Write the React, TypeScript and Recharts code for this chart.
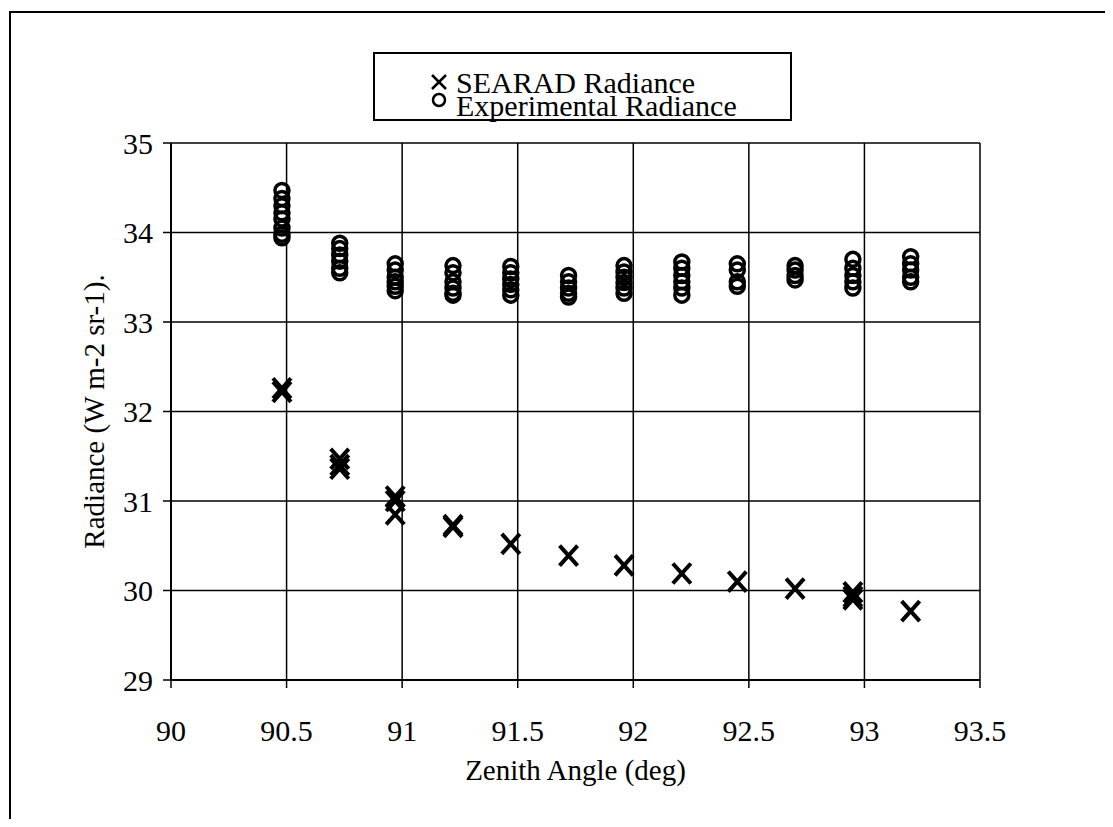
import { ScatterChart, Scatter, XAxis, YAxis, CartesianGrid, Legend, Label } from "recharts";

// zenith angle of each measurement column (deg)
const angles = [90.48, 90.73, 90.97, 91.22, 91.47, 91.72, 91.96, 92.21, 92.45, 92.7, 92.95, 93.2];

// SEARAD model radiance, per column
const searad = [
  [32.22, 32.26],
  [31.47, 31.4, 31.36],
  [31.05, 31.0, 30.85],
  [30.71, 30.73],
  [30.52],
  [30.39],
  [30.28],
  [30.19],
  [30.1],
  [30.02],
  [29.98, 29.93, 29.9],
  [29.77]
];

// experimental radiance, per column
const experimental = [
  [34.47, 34.38, 34.3, 34.22, 34.15, 34.05, 33.98, 33.94],
  [33.88, 33.82, 33.75, 33.68, 33.6, 33.55],
  [33.65, 33.58, 33.5, 33.45, 33.4, 33.35],
  [33.63, 33.55, 33.45, 33.38, 33.32, 33.3],
  [33.62, 33.55, 33.48, 33.42, 33.36, 33.3],
  [33.52, 33.45, 33.38, 33.32, 33.28],
  [33.63, 33.56, 33.5, 33.44, 33.38, 33.32],
  [33.67, 33.6, 33.52, 33.45, 33.38, 33.3],
  [33.65, 33.58, 33.45, 33.4],
  [33.63, 33.58, 33.52, 33.47],
  [33.7, 33.6, 33.52, 33.45, 33.38],
  [33.73, 33.65, 33.58, 33.5, 33.45]
];

const xTicks = [90, 90.5, 91, 91.5, 92, 92.5, 93, 93.5];
const yTicks = [29, 30, 31, 32, 33, 34, 35];

const toPoints = (cols: number[][]) =>
  cols.flatMap((vals, i) => vals.map((y) => ({ x: angles[i], y })));

const FONT = "'Liberation Serif', 'DejaVu Serif', 'Noto Serif', serif";

const Cross = (props: any) => {
  const { cx, cy } = props;
  return (
    <g>
      <line x1={cx - 9} y1={cy - 10} x2={cx + 9} y2={cy + 10} stroke="#000" strokeWidth={4} />
      <line x1={cx - 9} y1={cy + 10} x2={cx + 9} y2={cy - 10} stroke="#000" strokeWidth={4} />
    </g>
  );
};

const Ring = (props: any) => {
  const { cx, cy } = props;
  return <circle cx={cx} cy={cy} r={7} fill="none" stroke="#000" strokeWidth={3.5} />;
};

const legendBox = () => (
  <div style={{ position: "relative", width: "100%", height: "100%", fontFamily: FONT, fontSize: 30, color: "#000" }}>
    <svg width={30} height={60} style={{ position: "absolute", left: 49, top: 8 }}>
      <line x1={8} y1={13} x2={22} y2={27} stroke="#000" strokeWidth={2.5} />
      <line x1={8} y1={27} x2={22} y2={13} stroke="#000" strokeWidth={2.5} />
      <circle cx={15} cy={38} r={6} fill="none" stroke="#000" strokeWidth={2.5} />
    </svg>
    <div style={{ position: "absolute", left: 81, top: 17, lineHeight: "23px", whiteSpace: "nowrap" }}>
      <div>SEARAD Radiance</div>
      <div>Experimental Radiance</div>
    </div>
  </div>
);

export default function App() {
  return (
    <div style={{ position: "relative", width: 1113, height: 827, margin: -8, overflow: "hidden", background: "#fff" }}>
      <div
        style={{
          position: "absolute",
          left: 9,
          top: 11,
          width: 1120,
          height: 830,
          borderLeft: "2px solid #000",
          borderTop: "2px solid #000"
        }}
      />
      <ScatterChart
        width={1113}
        height={827}
        margin={{ top: 143, right: 133, bottom: 27, left: 91 }}
        style={{ position: "absolute", left: 0, top: 0 }}
      >
        <CartesianGrid stroke="#000" strokeWidth={1.5} />
        <XAxis
          type="number"
          dataKey="x"
          domain={[90, 93.5]}
          ticks={xTicks}
          height={120}
          tickSize={8}
          tickMargin={32}
          axisLine={{ stroke: "#000", strokeWidth: 2 }}
          tickLine={{ stroke: "#000", strokeWidth: 1.5 }}
          tick={{ fill: "#000", fontSize: 30, fontFamily: FONT }}
        >
          <Label
            content={({ viewBox }: any) => (
              <text
                x={viewBox.x + viewBox.width / 2}
                y={viewBox.y + 90}
                textAnchor="middle"
                dominantBaseline="central"
                fontSize={29}
                fontFamily={FONT}
                fill="#000"
              >
                Zenith Angle (deg)
              </text>
            )}
          />
        </XAxis>
        <YAxis
          type="number"
          dataKey="y"
          domain={[29, 35]}
          ticks={yTicks}
          width={80}
          tickSize={8}
          tickMargin={10}
          axisLine={{ stroke: "#000", strokeWidth: 2 }}
          tickLine={{ stroke: "#000", strokeWidth: 1.5 }}
          tick={{ fill: "#000", fontSize: 30, fontFamily: FONT }}
        >
          <Label
            content={({ viewBox }: any) => {
              const x = viewBox.x + 3;
              const y = viewBox.y + viewBox.height / 2;
              return (
                <text
                  x={x}
                  y={y}
                  transform={`rotate(-90 ${x} ${y})`}
                  textAnchor="middle"
                  dominantBaseline="central"
                  fontSize={29}
                  fontFamily={FONT}
                  fill="#000"
                >
                  Radiance (W m-2 sr-1).
                </text>
              );
            }}
          />
        </YAxis>
        <Legend
          layout="vertical"
          align="center"
          verticalAlign="middle"
          content={legendBox}
          wrapperStyle={{
            left: 373,
            top: 52,
            width: 419,
            height: 69,
            border: "2px solid #000",
            boxSizing: "border-box",
            background: "#fff"
          }}
        />
        <Scatter name="SEARAD Radiance" data={toPoints(searad)} shape={Cross} isAnimationActive={false} />
        <Scatter name="Experimental Radiance" data={toPoints(experimental)} shape={Ring} isAnimationActive={false} />
      </ScatterChart>
    </div>
  );
}
